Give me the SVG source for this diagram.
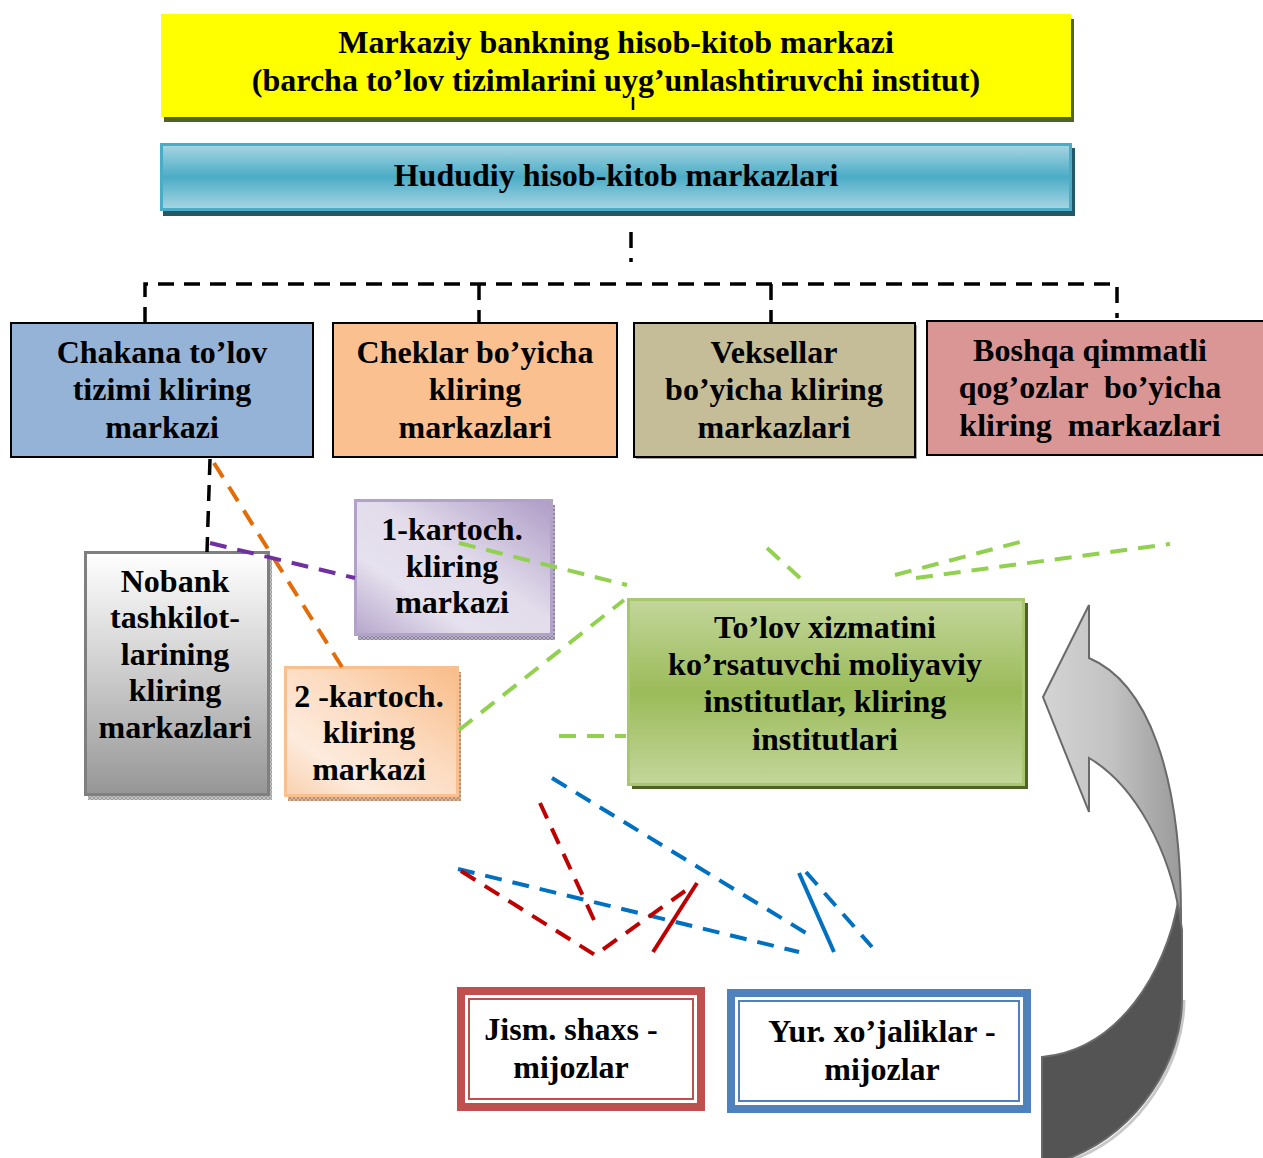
<svg xmlns="http://www.w3.org/2000/svg" width="1263" height="1158" viewBox="0 0 1263 1158">
  <defs>
    <style>
      text { font-family: "Liberation Serif", "Times New Roman", serif; font-weight: bold; font-size: 32px; fill: #000; text-anchor: middle; }
      .box { stroke: #000; stroke-width: 2; }
      .dash { fill: none; stroke-width: 4; stroke-dasharray: 17 11; }
      .blk { stroke: #000; stroke-width: 3.5; stroke-dasharray: 16 10; fill: none; }
      .grn { stroke: #92D050; }
      .blu { stroke: #0070C0; }
      .red { stroke: #C00000; }
      .org { stroke: #E36C09; }
      .pur { stroke: #7030A0; }
    </style>
    <linearGradient id="gTeal" x1="0" y1="0" x2="0" y2="1">
      <stop offset="0" stop-color="#A8D6E3"/>
      <stop offset="0.5" stop-color="#4BACC6"/>
      <stop offset="1" stop-color="#A8D6E3"/>
    </linearGradient>
    <linearGradient id="gGreen" x1="0" y1="0" x2="0" y2="1">
      <stop offset="0" stop-color="#C3D69B"/>
      <stop offset="0.5" stop-color="#9BBB59"/>
      <stop offset="1" stop-color="#C3D69B"/>
    </linearGradient>
    <linearGradient id="gGray" x1="0" y1="0" x2="0" y2="1">
      <stop offset="0" stop-color="#FFFFFF"/>
      <stop offset="0.45" stop-color="#D2D2D2"/>
      <stop offset="1" stop-color="#969696"/>
    </linearGradient>
    <linearGradient id="gPurple" x1="1" y1="0" x2="0" y2="1">
      <stop offset="0" stop-color="#AE9CC6"/>
      <stop offset="0.45" stop-color="#E2DCEB"/>
      <stop offset="0.7" stop-color="#E6E1EE"/>
      <stop offset="1" stop-color="#B5A6CB"/>
    </linearGradient>
    <linearGradient id="gPeach" x1="1" y1="0" x2="0" y2="1">
      <stop offset="0" stop-color="#F9BC88"/>
      <stop offset="0.45" stop-color="#FCDCC2"/>
      <stop offset="0.75" stop-color="#FDEBDD"/>
      <stop offset="1" stop-color="#FAD0AE"/>
    </linearGradient>
    <linearGradient id="gArrow" x1="0" y1="0" x2="1" y2="0">
      <stop offset="0" stop-color="#D4D4D4"/>
      <stop offset="0.5" stop-color="#C2C2C2"/>
      <stop offset="1" stop-color="#9A9A9A"/>
    </linearGradient>
    <pattern id="hGray" width="4" height="4" patternUnits="userSpaceOnUse">
      <rect width="4" height="4" fill="#C4C4C4"/>
      <path d="M0 0L4 4M4 0L0 4" stroke="#8C8C8C" stroke-width="0.7"/>
    </pattern>
    <pattern id="hPurple" width="4" height="4" patternUnits="userSpaceOnUse">
      <rect width="4" height="4" fill="#B8B0C4"/>
      <path d="M0 0L4 4M4 0L0 4" stroke="#7D7390" stroke-width="0.7"/>
    </pattern>
    <pattern id="hPeach" width="4" height="4" patternUnits="userSpaceOnUse">
      <rect width="4" height="4" fill="#D9B49A"/>
      <path d="M0 0L4 4M4 0L0 4" stroke="#A68067" stroke-width="0.7"/>
    </pattern>
  </defs>

  <rect width="1263" height="1158" fill="#FFFFFF"/>

  <!-- top: central bank settlement centre -->
  <g id="central-bank">
    <rect x="164" y="19" width="910" height="103" fill="#4F6228"/>
    <rect x="161" y="14" width="910" height="103" fill="#FFFF00"/>
    <text x="616" y="53">Markaziy bankning hisob-kitob markazi</text>
    <text x="616" y="91">(barcha to’lov tizimlarini uyg’unlashtiruvchi institut)</text>
    <line x1="633" y1="97" x2="633" y2="110" stroke="#000" stroke-width="2.5"/>
  </g>

  <!-- regional settlement centres -->
  <g id="regional">
    <rect x="163" y="148" width="912" height="68" fill="#215968"/>
    <rect x="161.5" y="144.5" width="909" height="65" fill="url(#gTeal)" stroke="#4BACC6" stroke-width="3"/>
    <text x="616" y="186">Hududiy hisob-kitob markazlari</text>
  </g>

  <!-- clearing centres row -->
  <g id="retail-clearing">
    <rect class="box" x="11" y="323" width="302" height="134" fill="#95B3D7"/>
    <text x="162" y="363">Chakana to’lov</text>
    <text x="162" y="400">tizimi kliring</text>
    <text x="162" y="438">markazi</text>
  </g>
  <g id="cheque-clearing">
    <rect class="box" x="333" y="323" width="284" height="134" fill="#FAC090"/>
    <text x="475" y="363">Cheklar bo’yicha</text>
    <text x="475" y="400">kliring</text>
    <text x="475" y="438">markazlari</text>
  </g>
  <g id="bill-clearing">
    <rect x="636" y="325" width="281" height="134" fill="#A6A6A6"/>
    <rect class="box" x="634" y="323" width="281" height="134" fill="#C4BD97"/>
    <text x="774" y="363">Veksellar</text>
    <text x="774" y="400">bo’yicha kliring</text>
    <text x="774" y="438">markazlari</text>
  </g>
  <g id="securities-clearing">
    <rect class="box" x="927" y="321" width="340" height="134" fill="#D99694"/>
    <text x="1090" y="361" xml:space="preserve">Boshqa qimmatli</text>
    <text x="1090" y="398" xml:space="preserve">qog’ozlar  bo’yicha</text>
    <text x="1090" y="436" xml:space="preserve">kliring  markazlari</text>
  </g>

  <!-- second level -->
  <g id="nonbank-clearing">
    <rect x="88" y="557" width="184" height="243" fill="url(#hGray)"/>
    <rect x="85.5" y="552.5" width="183" height="242" fill="url(#gGray)" stroke="#7F7F7F" stroke-width="3"/>
    <text x="175" y="592">Nobank</text>
    <text x="175" y="628">tashkilot-</text>
    <text x="175" y="665">larining</text>
    <text x="175" y="701">kliring</text>
    <text x="175" y="738">markazlari</text>
  </g>
  <g id="card-clearing-1">
    <rect x="358" y="505" width="197" height="135" fill="url(#hPurple)"/>
    <rect x="355.5" y="500.5" width="196" height="134" fill="url(#gPurple)" stroke="#B3A2C7" stroke-width="3"/>
    <text x="452" y="540">1-kartoch.</text>
    <text x="452" y="577">kliring</text>
    <text x="452" y="613">markazi</text>
  </g>
  <g id="card-clearing-2">
    <rect x="288" y="672" width="173" height="129" fill="url(#hPeach)"/>
    <rect x="285.5" y="667.5" width="172" height="128" fill="url(#gPeach)" stroke="#F9BF8F" stroke-width="3"/>
    <text x="369" y="707">2 -kartoch.</text>
    <text x="369" y="743">kliring</text>
    <text x="369" y="780">markazi</text>
  </g>
  <g id="payment-institutions">
    <rect x="632" y="603" width="396" height="186" fill="#4F6228"/>
    <rect x="628.5" y="599.5" width="395" height="185" fill="url(#gGreen)" stroke="#A9C771" stroke-width="3"/>
    <text x="825" y="638">To’lov xizmatini</text>
    <text x="825" y="675">ko’rsatuvchi moliyaviy</text>
    <text x="825" y="712">institutlar, kliring</text>
    <text x="825" y="750">institutlari</text>
  </g>

  <!-- clients -->
  <g id="individuals">
    <rect x="461" y="991" width="240" height="116" fill="#FFFFFF" stroke="#C0504D" stroke-width="8"/>
    <rect x="469" y="999" width="224" height="100" fill="none" stroke="#C0504D" stroke-width="2"/>
    <text x="571" y="1040">Jism. shaxs -</text>
    <text x="571" y="1078">mijozlar</text>
  </g>
  <g id="legal-entities">
    <rect x="731" y="993" width="296" height="116" fill="#FFFFFF" stroke="#4F81BD" stroke-width="8"/>
    <rect x="739" y="1001" width="280" height="100" fill="none" stroke="#4F81BD" stroke-width="2"/>
    <text x="882" y="1042">Yur. xo’jaliklar -</text>
    <text x="882" y="1080">mijozlar</text>
  </g>

  <!-- curved return arrow: dark back face below, light front face with head above -->
  <g id="return-arrow" stroke-linejoin="miter">
    <path d="M1184,1000 C1184,1062 1142,1134 1072,1160" fill="none" stroke="#C8C8C8" stroke-width="3"/>
    <path d="M1178,902 L1182,930 L1182,1000 C1182,1060 1140,1130 1070,1158 L1042,1166 L1042,1057 C1120,1050 1166,970 1178,902 Z" fill="#545454" stroke="#6A6A6A" stroke-width="2"/>
    <path d="M1043,697 L1089,605 L1089,658 C1146,682 1182,770 1181,922 C1170,850 1135,785 1089,758 L1089,812 Z" fill="url(#gArrow)" stroke="#6A6A6A" stroke-width="2"/>
  </g>

  <!-- connectors -->
  <g id="connectors">
    <path class="blk" d="M631,232 L631,262"/>
    <path class="blk" d="M145,323 L145,284 L1117,284 L1117,318"/>
    <path class="blk" d="M479,284 L479,323"/>
    <path class="blk" d="M771,284 L771,323"/>
    <path class="blk" d="M210,459 L207,552"/>

    <path class="dash org" d="M214,463 L342,667"/>
    <path class="dash pur" d="M210,543 L355,578"/>

    <path class="dash grn" d="M459,543 L627,585"/>
    <path class="dash grn" d="M459,730 L624,600"/>
    <path class="dash grn" d="M559,736 L626,736"/>
    <path class="dash grn" d="M767,548 L800,578"/>
    <path class="dash grn" d="M895,575 L1020,542"/>
    <path class="dash grn" d="M916,578 L1170,544"/>

    <path class="dash blu" d="M552,778 L806,933"/>
    <path class="dash blu" d="M458,869 L799,952"/>
    <path class="dash blu" d="M806,872 L872,947"/>
    <path d="M799,873 L834,952" stroke="#0070C0" stroke-width="4" fill="none"/>

    <path class="dash red" d="M540,803 L594,920"/>
    <path class="dash red" d="M461,871 L595,955 L685,891"/>
    <path d="M653,952 L697,883" stroke="#C00000" stroke-width="4" fill="none"/>
  </g>
</svg>
